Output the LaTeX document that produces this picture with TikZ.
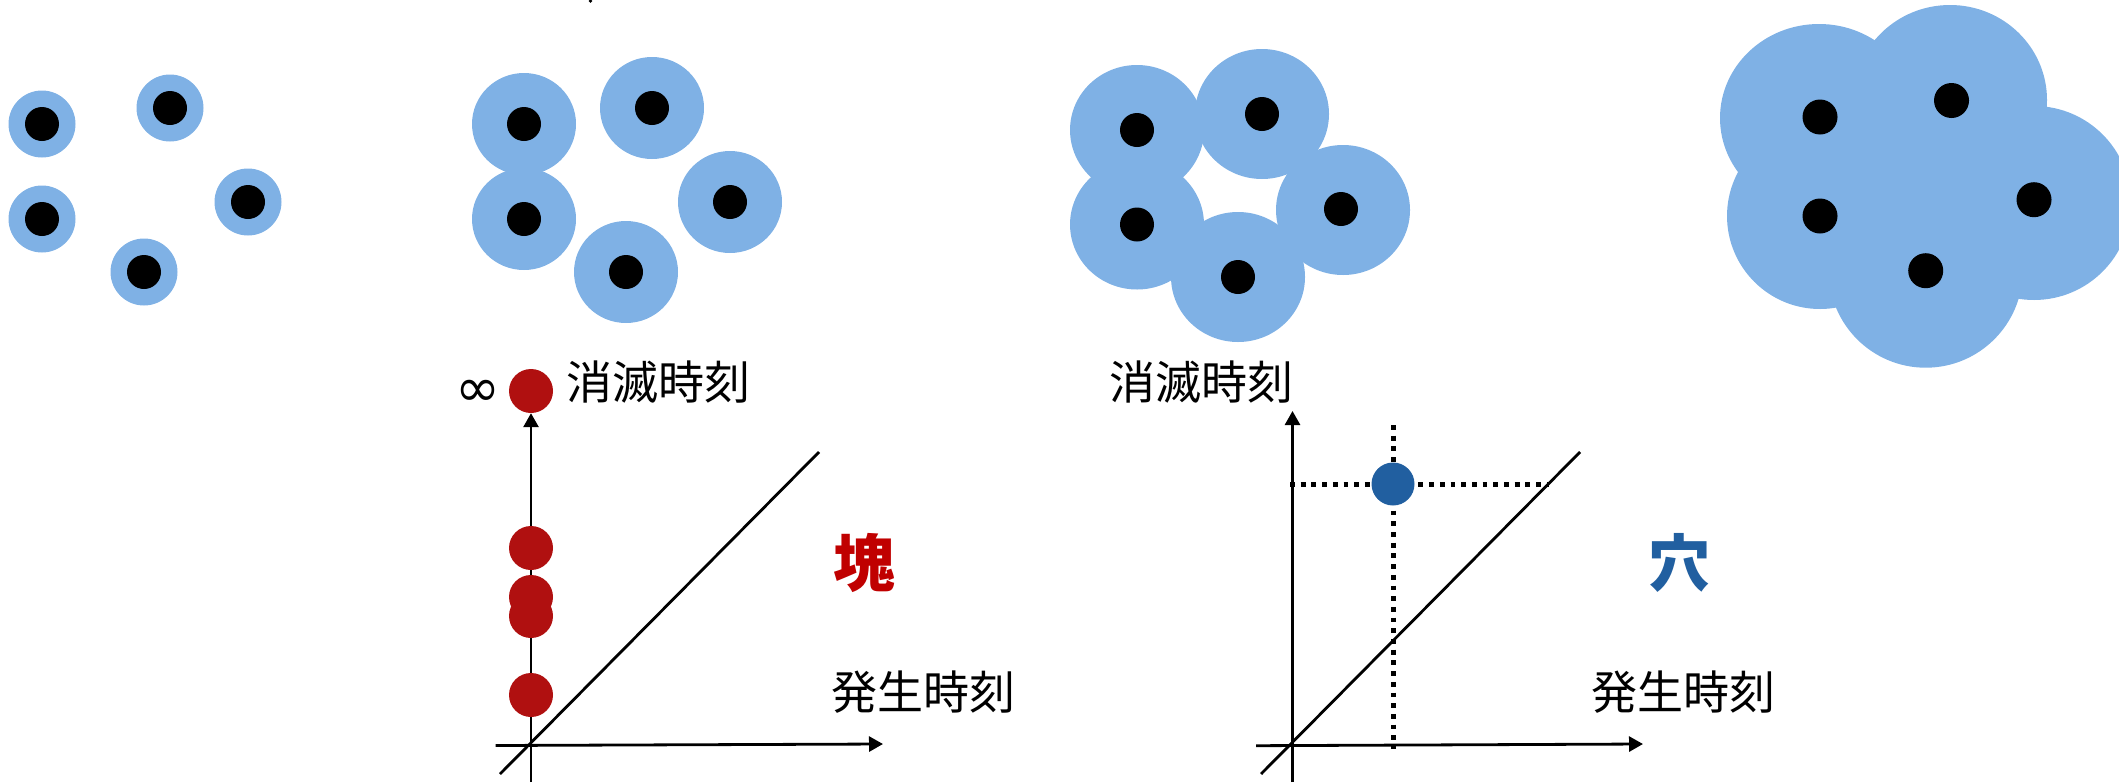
\documentclass[tikz,border=0pt]{standalone}
\usepackage{fontspec}
\newfontfamily\jp{Noto Sans CJK JP}
\newfontfamily\djv{DejaVu Sans}
\usetikzlibrary{arrows.meta}
\definecolor{lblue}{RGB}{127,177,229}
\definecolor{dblue}{RGB}{33,95,160}
\definecolor{dotred}{RGB}{176,16,16}
\definecolor{txtred}{RGB}{192,0,0}
\begin{document}
\begin{tikzpicture}[x=1pt,y=-1pt,
  halo/.style={fill=lblue},
  core/.style={fill=black},
  axisline/.style={line width=2.8pt,-{Triangle[length=14pt,width=15pt]}},
  diagline/.style={line width=2.8pt},
  dotline/.style={line width=5pt,dash pattern=on 4.8pt off 5.9pt},
  reddot/.style={circle,fill=dotred,minimum size=44pt,inner sep=0pt},
  bluedot/.style={circle,fill=dblue,minimum size=43pt,inner sep=0pt},
  lbl/.style={font=\jp\fontsize{46}{50}\selectfont,inner sep=0pt},
  bigl/.style={font=\jp\bfseries\fontsize{62}{66}\selectfont,inner sep=0pt}]
\useasboundingbox (0,0) rectangle (2119,782);
% panel 1
\foreach \p in {(42,124),(170,108),(42,219),(248,202),(144,272)}
  \fill[halo] \p circle[radius=33.5pt];
\foreach \p in {(42,124),(170,108),(42,219),(248,202),(144,272)}
  \fill[core] \p circle[radius=17pt];
% panel 2
\foreach \p in {(524,124),(652,108),(524,219),(730,202),(626,272)}
  \fill[halo] \p circle[x radius=52pt,y radius=51pt];
\foreach \p in {(524,124),(652,108),(524,219),(730,202),(626,272)}
  \fill[core] \p circle[radius=17pt];
% panel 3
\foreach \p in {(1137,130),(1262,114),(1137,224.5),(1343,210),(1238,277)}
  \fill[halo] \p circle[x radius=67pt,y radius=65pt];
\foreach \p in {(1137,130),(1262,114),(1137,224.5),(1341,209),(1238,277)}
  \fill[core] \p circle[radius=17pt];
% panel 4
\fill[halo] (1819,118) circle[x radius=99pt,y radius=94pt];
\fill[halo] (1950,100) circle[x radius=97pt,y radius=95pt];
\fill[halo] (1820,216) circle[radius=93pt];
\fill[halo] (2034,203) circle[radius=97pt];
\fill[halo] (1925.7,270.7) circle[radius=97pt];
\foreach \p in {(1820,117),(1951.5,100.5),(1820,216),(2034,199.7),(1925.7,270.7)}
  \fill[core] \p circle[radius=17.5pt];
% tiny mark at top
\fill (590.5,1) circle[radius=1.8pt];
% left graph
\coordinate (lvb) at (531,782);
\coordinate (lhl) at (495.5,745.5);
\coordinate (lhr) at (883,744);
\coordinate (ld1) at (500,774);
\coordinate (ld2) at (819,452);
\node[reddot] (r1) at (531,391) {};
\draw[diagline] (ld1) -- (ld2);
\draw[axisline] (lhl) -- (lhr);
\draw[axisline] (lvb) -- (r1.south);
\node[reddot] (r2) at (531,548) {};
\node[reddot] (r3) at (531,597) {};
\node[reddot] (r4) at (531,616) {};
\node[reddot] (r5) at (531,695) {};
\node[inner sep=0pt] (inf) at (477.5,393) {\djv\fontsize{54}{54}\selectfont ∞};
\node[lbl] (lt) at (658,382.5) {消滅時刻};
\node[lbl] (lx) at (923,692) {発生時刻};
\node[bigl,text=txtred] (kai) at (864.5,563) {塊};
% right graph
\coordinate (rvb) at (1292.5,782);
\coordinate (rvt) at (1292.5,411);
\coordinate (rhl) at (1256,745.7);
\coordinate (rhr) at (1643,744);
\coordinate (rd1) at (1261,774);
\coordinate (rd2) at (1580,452);
\coordinate (vt) at (1393,425);
\coordinate (vb) at (1393,749);
\coordinate (hl) at (1290,484);
\coordinate (hr) at (1549,484);
\draw[dotline] (vt) -- (vb);
\draw[dotline] (hl) -- (hr);
\draw[diagline] (rd1) -- (rd2);
\draw[axisline] (rhl) -- (rhr);
\draw[axisline] (rvb) -- (rvt);
\node[bluedot] (hp) at (1393,484) {};
\node[lbl] (rt) at (1201,382.5) {消滅時刻};
\node[lbl] (rx) at (1683.5,692) {発生時刻};
\node[bigl,text=dblue] (ana) at (1679,563) {穴};
\end{tikzpicture}
\end{document}
